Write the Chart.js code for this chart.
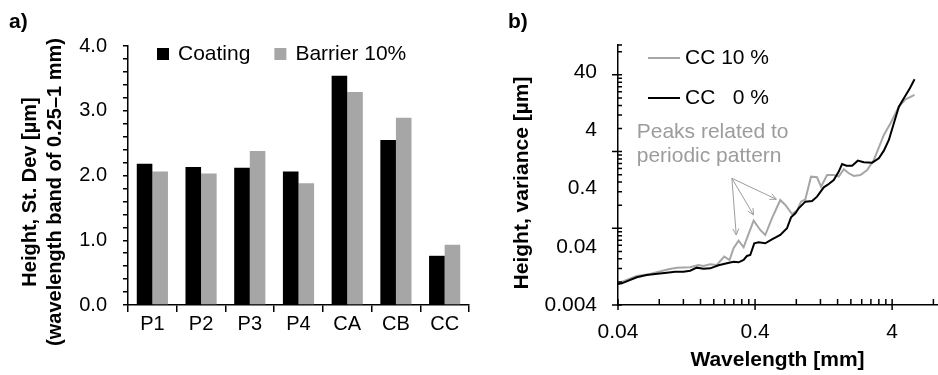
<!DOCTYPE html>
<html>
<head>
<meta charset="utf-8">
<script src="https://cdn.jsdelivr.net/npm/chart.js@4.4.0/dist/chart.umd.min.js"></script>
<style>
  html, body { margin: 0; padding: 0; background: #fff; }
  #wrap { position: relative; width: 938px; height: 375px; overflow: hidden; }
  .panel { position: absolute; top: 0; height: 375px; }
  #panelA { left: 0; width: 490px; }
  #panelB { left: 490px; width: 448px; }
</style>
</head>
<body>
<div id="wrap">
  <div class="panel" id="panelA"><canvas id="chartA"></canvas></div>
  <div class="panel" id="panelB"><canvas id="chartB"></canvas></div>
</div>
<script>
// ---- panel a: std dev per sample ----
var sampleNames = ['P1', 'P2', 'P3', 'P4', 'CA', 'CB', 'CC'];
var coatingStd = [2.18, 2.13, 2.12, 2.06, 3.54, 2.55, 0.76];
var barrierStd = [2.06, 2.03, 2.38, 1.88, 3.29, 2.89, 0.93];
var stdTicks = [0, 0.2, 0.4, 0.6, 0.8, 1.0, 1.2, 1.4, 1.6, 1.8, 2.0,
                2.2, 2.4, 2.6, 2.8, 3.0, 3.2, 3.4, 3.6, 3.8, 4.0];

// ---- panel b: variance spectrum ----
var cc0Wave = [0.04, 0.0426, 0.0548, 0.0648, 0.0746, 0.0908, 0.1044, 0.1201, 0.1344, 0.1503,
               0.1682, 0.1882, 0.2165, 0.2492, 0.2787, 0.3032, 0.3298, 0.3488, 0.369, 0.3947,
               0.4245, 0.4748, 0.531, 0.611, 0.684, 0.732, 0.787, 0.832, 0.931, 1.042,
               1.133, 1.268, 1.379, 1.5, 1.632, 1.726, 1.857, 2.043, 2.247, 2.486,
               2.861, 3.199, 3.48, 3.786, 4.118, 4.48, 4.872, 5.39, 5.83];
var cc0Var = [0.00918, 0.00942, 0.01194, 0.01309, 0.01362, 0.01436, 0.01494, 0.01494, 0.01554, 0.0175,
              0.01682, 0.01704, 0.01919, 0.02077, 0.02218, 0.0216, 0.0237, 0.02775, 0.02887, 0.0458,
              0.0476, 0.0458, 0.0536, 0.0636, 0.0829, 0.128, 0.150, 0.1826, 0.2377, 0.244,
              0.2897, 0.419, 0.478, 0.560, 0.778, 1.054, 0.986, 0.986, 1.202, 1.125,
              1.110, 1.318, 1.784, 2.72, 5.26, 10.16, 14.12, 20.97, 29.93];
var cc10Wave = [0.04, 0.0548, 0.0686, 0.0934, 0.1074, 0.1344, 0.1546, 0.1682, 0.1882, 0.2105,
                0.2382, 0.2606, 0.2787, 0.3032, 0.3298, 0.3903, 0.4365, 0.4748, 0.531, 0.611,
                0.665, 0.744, 0.809, 0.866, 0.931, 1.024, 1.133, 1.212, 1.341, 1.5,
                1.632, 1.775, 1.931, 2.101, 2.35, 2.629, 2.942, 3.48, 3.894, 4.48,
                5.01, 5.83];
var cc10Var = [0.00942, 0.01259, 0.01362, 0.01638, 0.0175, 0.01773, 0.01944, 0.01869, 0.01996, 0.01944,
               0.02703, 0.0237, 0.0376, 0.0509, 0.0391, 0.1122, 0.0776, 0.0636, 0.123, 0.254,
               0.2084, 0.146, 0.1666, 0.2377, 0.2606, 0.638, 0.622, 0.430, 0.682, 0.682,
               0.638, 0.853, 0.729, 0.656, 0.682, 0.831, 1.234, 3.315, 5.26, 10.16,
               13.58, 16.12];
var waveLabels = [0.04, 0.4, 4];
var varLabels = [0.004, 0.04, 0.4, 4, 40];

// annotation anchors (data coordinates)
var peakArrowFrom = [0.271, 0.598];
var peakArrowTips = [[0.2916, 0.0636], [0.390, 0.1403], [0.5716, 0.261]];
var peakNote = ['Peaks related to', 'periodic pattern'];
var peakNoteAt = [0.0548, 3.63, 1.406];

var GREY = '#a6a6a6';
Chart.defaults.font.family = '"Liberation Sans", Arial, sans-serif';
Chart.defaults.color = '#000';

function toPoints(xs, ys) {
  return xs.map(function(x, i) { return { x: x, y: ys[i] }; });
}

// log tick marks: k * decade for k = 1..10
function logMarks(decades, max) {
  var out = [];
  decades.forEach(function(d) {
    for (var k = 1; k <= 10; k++) {
      var v = +(k * d).toPrecision(6);
      if (v <= max) out.push({ v: v, major: k === 1 });
    }
  });
  return out;
}

// ---------------- panel a ----------------
var panelADecor = {
  id: 'panelADecor',
  afterDraw: function(chart) {
    var ctx = chart.ctx, area = chart.chartArea;
    ctx.save();
    ctx.fillStyle = '#000';
    ctx.font = 'bold 21px "Liberation Sans", Arial, sans-serif';
    ctx.textBaseline = 'middle';
    ctx.textAlign = 'left';
    ctx.fillText('a)', 9, 22);

    // y title, two lines
    ctx.font = 'bold 20px "Liberation Sans", Arial, sans-serif';
    ctx.textAlign = 'center';
    var lines = ['Height, St. Dev [µm]', '(wavelength band of 0.25–1 mm)'];
    [30, 55].forEach(function(x, i) {
      ctx.save();
      ctx.translate(x, 192);
      ctx.rotate(-Math.PI / 2);
      ctx.fillText(lines[i], 0, 0);
      ctx.restore();
    });

    // legend inside plot, top
    ctx.font = '21px "Liberation Sans", Arial, sans-serif';
    ctx.textAlign = 'left';
    var x = area.left + 29, y = area.top + 8;
    chart.data.datasets.forEach(function(ds) {
      ctx.fillStyle = ds.backgroundColor;
      ctx.fillRect(x, y - 6, 12, 12);
      x += 21;
      ctx.fillStyle = '#000';
      ctx.fillText(ds.label, x, y);
      x += ctx.measureText(ds.label).width + 24;
    });
    ctx.restore();
  }
};

new Chart(document.getElementById('chartA'), {
  type: 'bar',
  data: {
    labels: sampleNames,
    datasets: [
      { label: 'Coating', data: coatingStd, backgroundColor: '#000000' },
      { label: 'Barrier 10%', data: barrierStd, backgroundColor: GREY }
    ]
  },
  options: {
    responsive: true,
    maintainAspectRatio: false,
    animation: false,
    layout: { padding: { top: 46, right: 21, left: 0, bottom: 0 } },
    datasets: { bar: { barPercentage: 1, categoryPercentage: 0.64, borderWidth: 0 } },
    plugins: { legend: { display: false }, tooltip: { enabled: false } },
    scales: {
      x: {
        grid: { display: true, drawOnChartArea: false, drawTicks: true, tickLength: 7,
                color: '#000', lineWidth: 1.5, offset: true },
        border: { display: true, color: '#000', width: 1.5 },
        ticks: { font: { size: 20 }, color: '#000', padding: 0, maxRotation: 0 },
        afterFit: function(s) { s.height = 70; }
      },
      y: {
        min: 0, max: 4,
        grid: { display: true, drawOnChartArea: false, drawTicks: true, tickLength: 5,
                color: '#000', lineWidth: 1.5 },
        border: { display: true, color: '#000', width: 1.5 },
        afterBuildTicks: function(s) {
          s.ticks = stdTicks.map(function(v) { return { value: v }; });
        },
        ticks: {
          autoSkip: false,
          font: { size: 20 }, color: '#000', padding: 16,
          callback: function(v) {
            return Math.abs(v - Math.round(v)) < 1e-6 ? v.toFixed(1) : '';
          }
        },
        afterFit: function(s) { s.width = 128; }
      }
    }
  },
  plugins: [panelADecor]
});

// ---------------- panel b ----------------
var panelBDecor = {
  id: 'panelBDecor',
  afterDraw: function(chart) {
    var ctx = chart.ctx, area = chart.chartArea;
    var xs = chart.scales.x, ys = chart.scales.y, ym = chart.scales.yMarks;
    ctx.save();

    // tick marks
    ctx.strokeStyle = '#000';
    ctx.lineWidth = 1.5;
    ctx.beginPath();
    logMarks([0.04, 0.4, 4], xs.max).forEach(function(m) {
      var px = xs.getPixelForValue(m.v);
      ctx.moveTo(px, area.bottom + (m.major ? 5 : 0));
      ctx.lineTo(px, area.bottom - 6);
    });
    logMarks([0.004, 0.04, 0.4, 4], ym.max).forEach(function(m) {
      var py = ym.getPixelForValue(m.v);
      ctx.moveTo(area.left - (m.major ? 6 : 0), py);
      ctx.lineTo(area.left + 4, py);
    });
    ctx.moveTo(area.left, area.top);
    ctx.lineTo(area.left + 4, area.top);
    ctx.stroke();

    ctx.fillStyle = '#000';
    ctx.textBaseline = 'middle';
    ctx.font = 'bold 21px "Liberation Sans", Arial, sans-serif';
    ctx.textAlign = 'left';
    ctx.fillText('b)', 18, 22);

    // y title
    ctx.save();
    ctx.translate(32, 183);
    ctx.rotate(-Math.PI / 2);
    ctx.textAlign = 'center';
    ctx.fillText('Height, variance [µm]', 0, 0);
    ctx.restore();

    // legend (line samples)
    ctx.font = '21px "Liberation Sans", Arial, sans-serif';
    var order = [0, 1];
    var ly = [area.top + 13, area.top + 53];
    order.forEach(function(di, i) {
      var ds = chart.data.datasets[di];
      ctx.strokeStyle = ds.borderColor;
      ctx.lineWidth = 2;
      ctx.beginPath();
      ctx.moveTo(area.left + 30, ly[i]);
      ctx.lineTo(area.left + 62, ly[i]);
      ctx.stroke();
      ctx.fillStyle = '#000';
      ctx.fillText(ds.label, area.left + 67, ly[i]);
    });

    // annotation
    ctx.fillStyle = '#9c9c9c';
    ctx.fillText(peakNote[0], xs.getPixelForValue(peakNoteAt[0]), ys.getPixelForValue(peakNoteAt[1]));
    ctx.fillText(peakNote[1], xs.getPixelForValue(peakNoteAt[0]), ys.getPixelForValue(peakNoteAt[2]));
    ctx.strokeStyle = '#9c9c9c';
    ctx.lineWidth = 1;
    var fx = xs.getPixelForValue(peakArrowFrom[0]);
    var fy = ys.getPixelForValue(peakArrowFrom[1]);
    peakArrowTips.forEach(function(t) {
      var tx = xs.getPixelForValue(t[0]), ty = ys.getPixelForValue(t[1]);
      var ang = Math.atan2(ty - fy, tx - fx);
      ctx.beginPath();
      ctx.moveTo(fx, fy);
      ctx.lineTo(tx, ty);
      ctx.moveTo(tx - 7 * Math.cos(ang - 0.45), ty - 7 * Math.sin(ang - 0.45));
      ctx.lineTo(tx, ty);
      ctx.lineTo(tx - 7 * Math.cos(ang + 0.45), ty - 7 * Math.sin(ang + 0.45));
      ctx.stroke();
    });
    ctx.restore();
  }
};

new Chart(document.getElementById('chartB'), {
  type: 'line',
  data: {
    datasets: [
      { label: 'CC 10 %', data: toPoints(cc10Wave, cc10Var), borderColor: GREY,
        borderWidth: 2, pointRadius: 0, tension: 0, order: 1 },
      { label: 'CC   0 %', data: toPoints(cc0Wave, cc0Var), borderColor: '#000000',
        borderWidth: 2, pointRadius: 0, tension: 0, order: 0 }
    ]
  },
  options: {
    responsive: true,
    maintainAspectRatio: false,
    animation: false,
    parsing: false,
    layout: { padding: { top: 45, right: 1, left: 0, bottom: 0 } },
    plugins: { legend: { display: false }, tooltip: { enabled: false } },
    scales: {
      x: {
        type: 'logarithmic', min: 0.04, max: 8.5, bounds: 'data',
        grid: { display: false, drawTicks: false, tickLength: 0 },
        border: { display: true, color: '#000', width: 1.5 },
        afterBuildTicks: function(s) {
          s.ticks = waveLabels.map(function(v) { return { value: v }; });
        },
        ticks: { autoSkip: false, font: { size: 21 }, color: '#000', padding: 15, maxRotation: 0,
                 callback: function(v) { return String(v); } },
        title: { display: true, text: 'Wavelength [mm]', color: '#000',
                 font: { size: 21, weight: 'bold' }, padding: { top: 0, bottom: 2 } },
        afterFit: function(s) { s.height = 70; }
      },
      y: {
        type: 'logarithmic', min: 0.004, max: 116, bounds: 'data', weight: 1,
        grid: { display: false, drawTicks: false, tickLength: 0 },
        border: { display: true, color: '#000', width: 1.5 },
        afterBuildTicks: function(s) {
          s.ticks = varLabels.map(function(v) { return { value: v }; });
        },
        ticks: { autoSkip: false, font: { size: 21 }, color: '#000', padding: 21,
                 callback: function(v) { return String(v); } },
        afterFit: function(s) { s.width = 128; }
      },
      yMarks: {
        type: 'logarithmic', position: 'left', display: false, weight: 0,
        min: 0.004, max: 9.8, bounds: 'data'
      }
    }
  },
  plugins: [panelBDecor]
});
</script>
</body>
</html>
